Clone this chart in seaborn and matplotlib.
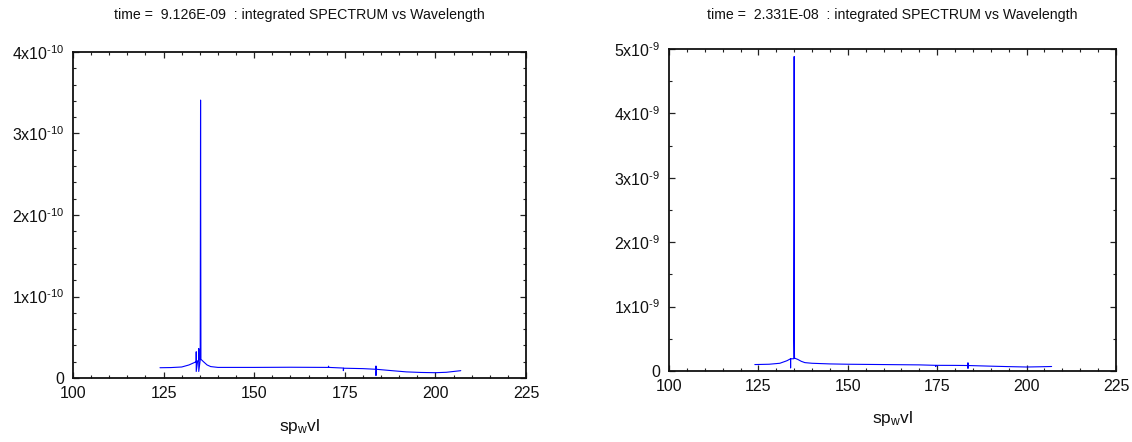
import numpy as np
import pandas as pd
import seaborn as sns
from matplotlib import pyplot as plt
from matplotlib.ticker import FuncFormatter, MultipleLocator

# left panel, t = 9.126E-09 (values in units of 1e-11)
wl_a = [124, 127, 130, 132, 133.5, 134.0, 134.0, 134.0, 134.4, 134.7, 134.7,
        134.7, 135.1, 135.2, 135.3, 136, 137, 138, 140, 150, 160, 170, 170.5,
        170.5, 170.6, 174.6, 174.6, 174.7, 180, 183.6, 183.6, 183.6, 183.7,
        188, 192, 196, 200, 203, 207]
sp_a = [1.26, 1.28, 1.35, 1.6, 1.9, 2.0, 3.2, 0.8, 2.1, 2.2, 3.6,
        0.8, 2.2, 34.1, 2.3, 2.0, 1.6, 1.4, 1.3, 1.3, 1.32, 1.3, 1.3,
        1.45, 1.3, 1.22, 0.9, 1.2, 1.15, 1.07, 1.45, 0.3, 1.07,
        0.9, 0.75, 0.68, 0.65, 0.7, 0.9]

# right panel, t = 2.331E-08 (values in units of 1e-9)
wl_b = [124, 128, 131, 133, 134.0, 134.0, 134.0, 134.5, 134.9, 135.0, 135.0,
        135.0, 135.1, 136, 137, 138, 140, 145, 150, 160, 170, 174.6, 174.6,
        174.7, 180, 183.6, 183.6, 183.6, 183.7, 190, 195, 200, 204, 207]
sp_b = [0.10, 0.105, 0.12, 0.16, 0.19, 0.05, 0.19, 0.19, 0.19, 2.5, 4.88,
        0.6, 0.2, 0.18, 0.15, 0.13, 0.12, 0.11, 0.105, 0.1, 0.095, 0.088, 0.07,
        0.088, 0.087, 0.085, 0.125, 0.04, 0.085, 0.075, 0.068, 0.062, 0.066, 0.07]

titles = ["time =  9.126E-09  : integrated SPECTRUM vs Wavelength",
          "time =  2.331E-08  : integrated SPECTRUM vs Wavelength"]

sns.set_theme(style="ticks")
plt.rcParams["font.family"] = ["Liberation Sans", "DejaVu Sans"]
plt.rcParams["mathtext.fontset"] = "custom"
plt.rcParams["mathtext.rm"] = "Liberation Sans"
plt.rcParams["mathtext.it"] = "Liberation Sans"
plt.rcParams["axes.unicode_minus"] = False

W, H = 1132, 442
fig = plt.figure(figsize=(W / 100, H / 100), dpi=100)


def px_axes(x0, y0, x1, y1):
    return fig.add_axes([x0 / W, 1 - y1 / H, (x1 - x0) / W, (y1 - y0) / H])


def sci_fmt(exp):
    def f(v, pos):
        k = int(round(v / 10.0 ** exp))
        if k == 0:
            return "0"
        return f"{k}x10$^{{\\text{{{exp}}}}}$"
    return f


panels = [
    dict(box=(73, 52, 526, 378), wl=wl_a, sp=np.array(sp_a) * 1e-11,
         exp=-10, ymax=4e-10, ymin_step=0.2e-10, title=titles[0]),
    dict(box=(669, 49, 1116, 371), wl=wl_b, sp=np.array(sp_b) * 1e-9,
         exp=-9, ymax=5e-9, ymin_step=0.5e-9, title=titles[1]),
]

for p in panels:
    x0, y0, x1, y1 = p["box"]
    ax = px_axes(x0, y0, x1, y1)
    df = pd.DataFrame({"sp_wvl": p["wl"], "spectrum": p["sp"]})
    sns.lineplot(data=df, x="sp_wvl", y="spectrum", estimator=None, sort=False,
                 color="#0000ff", linewidth=0.8, ax=ax)
    ax.set_xlim(100, 225)
    ax.set_ylim(0, p["ymax"])
    ax.xaxis.set_major_locator(MultipleLocator(25))
    ax.xaxis.set_minor_locator(MultipleLocator(5))
    ax.yaxis.set_major_locator(MultipleLocator(10.0 ** p["exp"]))
    ax.yaxis.set_minor_locator(MultipleLocator(p["ymin_step"]))
    ax.yaxis.set_major_formatter(FuncFormatter(sci_fmt(p["exp"])))
    ax.tick_params(which="both", direction="in", top=True, right=True,
                   color="#222222", labelsize=11.5, labelcolor="#111111")
    ax.tick_params(which="major", length=4, width=0.9)
    ax.tick_params(which="minor", length=2, width=0.8)
    ax.tick_params(axis="x", pad=6)
    ax.tick_params(axis="y", pad=6)
    for s in ax.spines.values():
        s.set_linewidth(1.3)
        s.set_color("#111111")
    ax.set_xlabel("")
    ax.set_ylabel("")
    cx = (x0 + x1) / 2
    fig.text(cx / W, 1 - 15 / H, p["title"], ha="center", va="center",
             fontsize=10.2, color="#111111")
    fig.text(cx / W, 1 - (y1 + 48) / H, "sp$\\mathregular{_w}$vl",
             ha="center", va="center", fontsize=12.5, color="#111111")

fig.savefig("out.png", dpi=100)
